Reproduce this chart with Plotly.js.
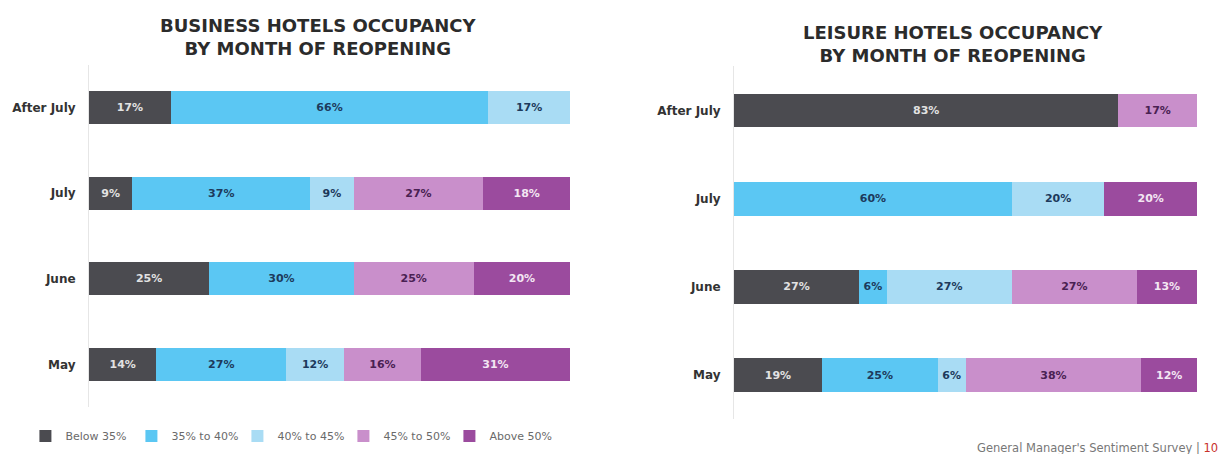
<!DOCTYPE html>
<html>
<head>
<meta charset="utf-8">
<script src="https://cdn.plot.ly/plotly-3.0.1.min.js"></script>
<style>
  html, body { margin: 0; padding: 0; background: #ffffff; }
  #chart { width: 1222px; height: 454px; }
</style>
</head>
<body>
<div id="chart"></div>
<script>
// ---- data ----
const categories = ['After July', 'July', 'June', 'May'];
const seriesNames = ['Below 35%', '35% to 40%', '40% to 45%', '45% to 50%', 'Above 50%'];

const businessBelow35 = [17, 9, 25, 14];
const business35to40  = [66, 37, 30, 27];
const business40to45  = [17, 9, null, 12];
const business45to50  = [null, 27, 25, 16];
const businessAbove50 = [null, 18, 20, 31];

const leisureBelow35 = [83, null, 27, 19];
const leisure35to40  = [null, 60, 6, 25];
const leisure40to45  = [null, 20, 27, 6];
const leisure45to50  = [17, null, 27, 38];
const leisureAbove50 = [null, 20, 13, 12];

const titleBusiness = 'BUSINESS HOTELS OCCUPANCY<br>BY MONTH OF REOPENING';
const titleLeisure = 'LEISURE HOTELS OCCUPANCY<br>BY MONTH OF REOPENING';
const footerText = "General Manager's Sentiment Survey | ";
const pageNumber = '10';

// ---- styles ----
const fillColors = ['#4b4b50', '#5bc7f3', '#a9dcf4', '#c98fcb', '#9b4b9e'];
const labelColors = ['#e2e2e2', '#1d3a5c', '#1d3a5c', '#4a2152', '#f3e6f3'];
const FONT = 'DejaVu Sans, Open Sans, sans-serif';

const businessSeries = [businessBelow35, business35to40, business40to45, business45to50, businessAbove50];
const leisureSeries = [leisureBelow35, leisure35to40, leisure40to45, leisure45to50, leisureAbove50];

function makeTrace(values, i, xa, ya, showLegend) {
  return {
    type: 'bar',
    orientation: 'h',
    name: seriesNames[i],
    legendgroup: seriesNames[i],
    showlegend: showLegend,
    x: values,
    y: categories,
    xaxis: xa,
    yaxis: ya,
    marker: { color: fillColors[i], line: { width: 0 } },
    texttemplate: '%{x}%',
    textposition: 'inside',
    insidetextanchor: 'middle',
    textangle: 0,
    constraintext: 'none',
    textfont: { family: FONT, size: 11, color: labelColors[i], weight: 'bold' },
    hoverinfo: 'skip'
  };
}

const traces = [];
businessSeries.forEach((v, i) => traces.push(makeTrace(v, i, 'x', 'y', true)));
leisureSeries.forEach((v, i) => traces.push(makeTrace(v, i, 'x2', 'y2', false)));

const W = 1222, H = 454;
function py(pix) { return 1 - pix / H; }

const yCommon = {
  type: 'category',
  categoryorder: 'array',
  categoryarray: categories,
  range: [3.5, -0.5],
  showline: true,
  linecolor: '#e6e6e6',
  linewidth: 1,
  showgrid: false,
  zeroline: false,
  ticks: 'outside',
  ticklen: 10,
  tickcolor: 'rgba(0,0,0,0)',
  tickfont: { family: FONT, size: 12, color: '#333333', weight: 'bold' },
  fixedrange: true
};
const xCommon = {
  range: [0, 100],
  visible: false,
  showgrid: false,
  zeroline: false,
  fixedrange: true
};

const layout = {
  width: W,
  height: H,
  margin: { l: 0, r: 0, t: 0, b: 0, pad: 0 },
  paper_bgcolor: '#ffffff',
  plot_bgcolor: '#ffffff',
  barmode: 'stack',
  bargap: 0.615,
  showlegend: true,
  font: { family: FONT, color: '#333333' },
  xaxis: Object.assign({}, xCommon, { domain: [89 / W, 570 / W], anchor: 'y' }),
  yaxis: Object.assign({}, yCommon, { domain: [py(407.3), py(64.7)], anchor: 'x' }),
  xaxis2: Object.assign({}, xCommon, { domain: [734 / W, 1197 / W], anchor: 'y2' }),
  yaxis2: Object.assign({}, yCommon, { domain: [py(419.1), py(66.4)], anchor: 'x2' }),
  legend: {
    orientation: 'h',
    x: 0.0208,
    xanchor: 'left',
    y: py(436),
    yanchor: 'middle',
    bgcolor: 'rgba(0,0,0,0)',
    font: { family: FONT, size: 11, color: '#6a6a6a' },
    traceorder: 'normal',
    entrywidth: 61,
    entrywidthmode: 'pixels'
  },
  annotations: [
    {
      text: titleBusiness,
      xref: 'paper', yref: 'paper',
      x: 318 / W, y: py(37),
      xanchor: 'center', yanchor: 'middle',
      showarrow: false,
      align: 'center',
      font: { family: FONT, size: 18, color: '#2b2b2b', weight: 'bold' }
    },
    {
      text: titleLeisure,
      xref: 'paper', yref: 'paper',
      x: 953 / W, y: py(44),
      xanchor: 'center', yanchor: 'middle',
      showarrow: false,
      align: 'center',
      font: { family: FONT, size: 18, color: '#2b2b2b', weight: 'bold' }
    },
    {
      text: footerText + '<span style="color:#c8312b">' + pageNumber + '</span>',
      xref: 'paper', yref: 'paper',
      x: 1220 / W, y: py(448),
      xanchor: 'right', yanchor: 'middle',
      showarrow: false,
      font: { family: FONT, size: 11.5, color: '#777777' }
    }
  ]
};

Plotly.newPlot('chart', traces, layout, { displayModeBar: false, staticPlot: true });
</script>
</body>
</html>
